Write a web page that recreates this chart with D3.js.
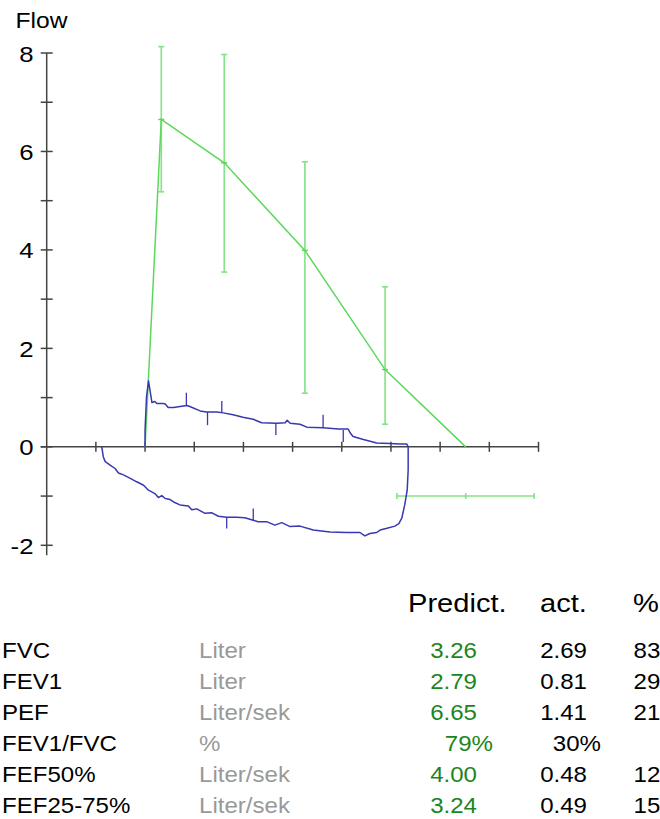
<!DOCTYPE html>
<html>
<head>
<meta charset="utf-8">
<script src="https://cdn.jsdelivr.net/npm/d3@7"></script>
<style>
  html, body { margin: 0; padding: 0; background: #fff; }
  svg { display: block; font-family: "Liberation Sans", Arial, sans-serif; }
</style>
</head>
<body>
<svg id="chart" width="660" height="819"></svg>
<script>
// measured flow-volume loop: [volume L, flow L/s]
const measuredLoop = [
  [0, 0], [0, 0.34], [0.03, 1.02], [0.07, 1.34], [0.10, 1.15], [0.14, 0.90], [0.20, 0.92],
  [0.24, 0.88], [0.30, 0.88], [0.37, 0.88], [0.41, 0.87], [0.47, 0.80], [0.58, 0.80],
  [0.71, 0.82], [0.85, 0.84], [0.91, 0.82], [1.12, 0.73], [1.25, 0.71], [1.46, 0.71],
  [1.59, 0.69], [1.79, 0.65], [1.99, 0.60], [2.20, 0.56], [2.37, 0.49], [2.68, 0.48],
  [2.85, 0.49], [2.89, 0.54], [2.95, 0.48], [3.15, 0.46], [3.29, 0.40], [3.62, 0.39],
  [3.93, 0.36], [4.13, 0.36], [4.18, 0.27], [4.23, 0.21], [4.44, 0.15], [4.71, 0.08],
  [4.98, 0.07], [5.18, 0.06], [5.32, 0.06], [5.35, 0],
  [5.35, -0.47], [5.33, -0.88], [5.28, -1.18], [5.22, -1.45], [5.16, -1.56], [5.08, -1.61],
  [4.90, -1.66], [4.78, -1.69], [4.71, -1.74], [4.57, -1.76], [4.47, -1.81], [4.37, -1.74],
  [4.10, -1.74], [3.76, -1.73], [3.42, -1.69], [3.15, -1.61], [2.95, -1.62], [2.78, -1.54],
  [2.64, -1.59], [2.47, -1.52], [2.30, -1.52], [2.20, -1.49], [2.03, -1.44], [1.86, -1.43],
  [1.66, -1.43], [1.49, -1.41], [1.36, -1.34], [1.22, -1.35], [1.05, -1.26], [0.95, -1.28],
  [0.88, -1.20], [0.71, -1.18], [0.58, -1.12], [0.51, -1.07], [0.41, -1.05], [0.34, -0.99],
  [0.27, -1.03], [0.20, -0.95], [0.07, -0.88], [-0.03, -0.78], [-0.17, -0.71], [-0.30, -0.64],
  [-0.44, -0.57], [-0.54, -0.53], [-0.61, -0.44], [-0.71, -0.37], [-0.81, -0.30],
  [-0.85, -0.20], [-0.88, 0]
];

// short marker strokes on the measured loop: [volume, flow from, flow to]
const measuredMarks = [
  [0.84, 0.84, 1.10], [1.27, 0.71, 0.44], [1.56, 0.71, 0.93], [2.66, 0.48, 0.24],
  [3.62, 0.39, 0.65], [4.03, 0.34, 0.10], [1.66, -1.43, -1.66], [2.20, -1.49, -1.25]
];

// predicted curve and its ranges
const predictedCurve = [[0, 0], [0.33, 6.65], [1.61, 5.77], [3.25, 3.99], [4.88, 1.57], [6.52, 0]];
const predictedRanges = [[0.33, 5.18, 8.13], [1.61, 3.55, 7.97], [3.25, 1.09, 5.79], [4.88, 0.46, 3.25]];
const fvcRange = [5.12, 6.52, 7.91];
const fvcRangeFlow = -1.0;

const yTicks = d3.range(-2, 9);
const xTicks = d3.range(-1, 9);

const tableHeader = ['Predict.', 'act.', '%'];
const params = ['FVC', 'FEV1', 'PEF', 'FEV1/FVC', 'FEF50%', 'FEF25-75%'];
const units = ['Liter', 'Liter', 'Liter/sek', '%', 'Liter/sek', 'Liter/sek'];
const predicted = ['3.26', '2.79', '6.65', '79%', '4.00', '3.24'];
const actual = ['2.69', '0.81', '1.41', '30%', '0.48', '0.49'];
const percent = ['83', '29', '21', '', '12', '15'];

const svg = d3.select('#chart');
svg.append('rect').attr('width', 660).attr('height', 819).attr('fill', '#fff');

const x = d3.scaleLinear().domain([-2, 8]).range([46.7, 538.5]);
const y = d3.scaleLinear().domain([-2, 8]).range([545.3, 53]);

const axisColor = '#444';
const lineGreen = '#5cd85c';
const barGreen = '#84e384';
const blue = '#3838b2';
const stretch = 1.12;

// text with the slight horizontal stretch of the original
const label = (g, tx, ty, txt, size, fill, anchor) =>
  g.append('text')
    .attr('transform', `translate(${tx},${ty}) scale(${stretch},1)`)
    .attr('font-size', size)
    .attr('fill', fill)
    .attr('text-anchor', anchor || 'start')
    .text(txt);

// axes
const axes = svg.append('g');
axes.append('line')
  .attr('x1', x(-2)).attr('x2', x(-2))
  .attr('y1', y(8)).attr('y2', y(-2) + 10)
  .attr('stroke', axisColor).attr('stroke-width', 1.5);
axes.append('line')
  .attr('x1', x(-2) - 6).attr('x2', x(8))
  .attr('y1', y(0)).attr('y2', y(0))
  .attr('stroke', axisColor).attr('stroke-width', 1.5);

axes.selectAll('.ytick').data(yTicks).enter().append('line')
  .attr('x1', x(-2) - 6).attr('x2', x(-2) + 6)
  .attr('y1', d => y(d)).attr('y2', d => y(d))
  .attr('stroke', axisColor).attr('stroke-width', 1.5);

axes.selectAll('.xtick').data(xTicks).enter().append('line')
  .attr('x1', d => x(d)).attr('x2', d => x(d))
  .attr('y1', y(0) - 5).attr('y2', y(0) + 5)
  .attr('stroke', axisColor).attr('stroke-width', 1.5);

yTicks.filter(d => d % 2 === 0).forEach(d => {
  label(axes, 33.5, y(d) + 8.5, d, 23, '#000', 'end');
});
label(axes, 15.5, 27.5, 'Flow', 22, '#000');

// predicted
const plot = svg.append('g');
const line = d3.line().x(d => x(d[0])).y(d => y(d[1]));

plot.selectAll('.range').data(predictedRanges).enter().append('g').each(function (d) {
  const g = d3.select(this);
  g.append('line').attr('x1', x(d[0])).attr('x2', x(d[0])).attr('y1', y(d[1])).attr('y2', y(d[2]));
  g.append('line').attr('x1', x(d[0]) - 3).attr('x2', x(d[0]) + 3).attr('y1', y(d[1])).attr('y2', y(d[1]));
  g.append('line').attr('x1', x(d[0]) - 3).attr('x2', x(d[0]) + 3).attr('y1', y(d[2])).attr('y2', y(d[2]));
}).selectAll('line').attr('stroke', barGreen).attr('stroke-width', 1.6);

const fvcG = plot.append('g');
fvcG.append('line').attr('x1', x(fvcRange[0])).attr('x2', x(fvcRange[2]))
  .attr('y1', y(fvcRangeFlow)).attr('y2', y(fvcRangeFlow));
fvcRange.forEach(v => {
  fvcG.append('line').attr('x1', x(v)).attr('x2', x(v))
    .attr('y1', y(fvcRangeFlow) - 3).attr('y2', y(fvcRangeFlow) + 3);
});
fvcG.selectAll('line').attr('stroke', barGreen).attr('stroke-width', 1.6);

plot.append('path').datum(predictedCurve)
  .attr('d', line).attr('fill', 'none')
  .attr('stroke', lineGreen).attr('stroke-width', 1.5);

plot.selectAll('.pt').data(predictedCurve.slice(1, 5)).enter().append('line')
  .attr('x1', d => x(d[0]) - 3).attr('x2', d => x(d[0]) + 3)
  .attr('y1', d => y(d[1])).attr('y2', d => y(d[1]))
  .attr('stroke', lineGreen).attr('stroke-width', 1.5);

// measured
plot.append('path').datum(measuredLoop)
  .attr('d', line).attr('fill', 'none')
  .attr('stroke', blue).attr('stroke-width', 1.5)
  .attr('stroke-linejoin', 'round');

plot.selectAll('.mark').data(measuredMarks).enter().append('line')
  .attr('x1', d => x(d[0])).attr('x2', d => x(d[0]))
  .attr('y1', d => y(d[1])).attr('y2', d => y(d[2]))
  .attr('stroke', blue).attr('stroke-width', 1.3);

// results table
const table = svg.append('g');
const headX = [408, 540, 633];
tableHeader.forEach((h, i) => label(table, headX[i], 611.5, h, 26, '#000'));

const rowY = i => 658.3 + i * 30.9;
params.forEach((p, i) => {
  const isPct = predicted[i].endsWith('%');
  label(table, 2, rowY(i), p, 21.5, '#000');
  label(table, 199, rowY(i), units[i], 21.5, '#999');
  label(table, isPct ? 493 : 477, rowY(i), predicted[i], 21.5, '#1c851c', 'end');
  label(table, isPct ? 601 : 587, rowY(i), actual[i], 21.5, '#000', 'end');
  label(table, 633.5, rowY(i), percent[i], 21.5, '#000');
});
</script>
</body>
</html>
